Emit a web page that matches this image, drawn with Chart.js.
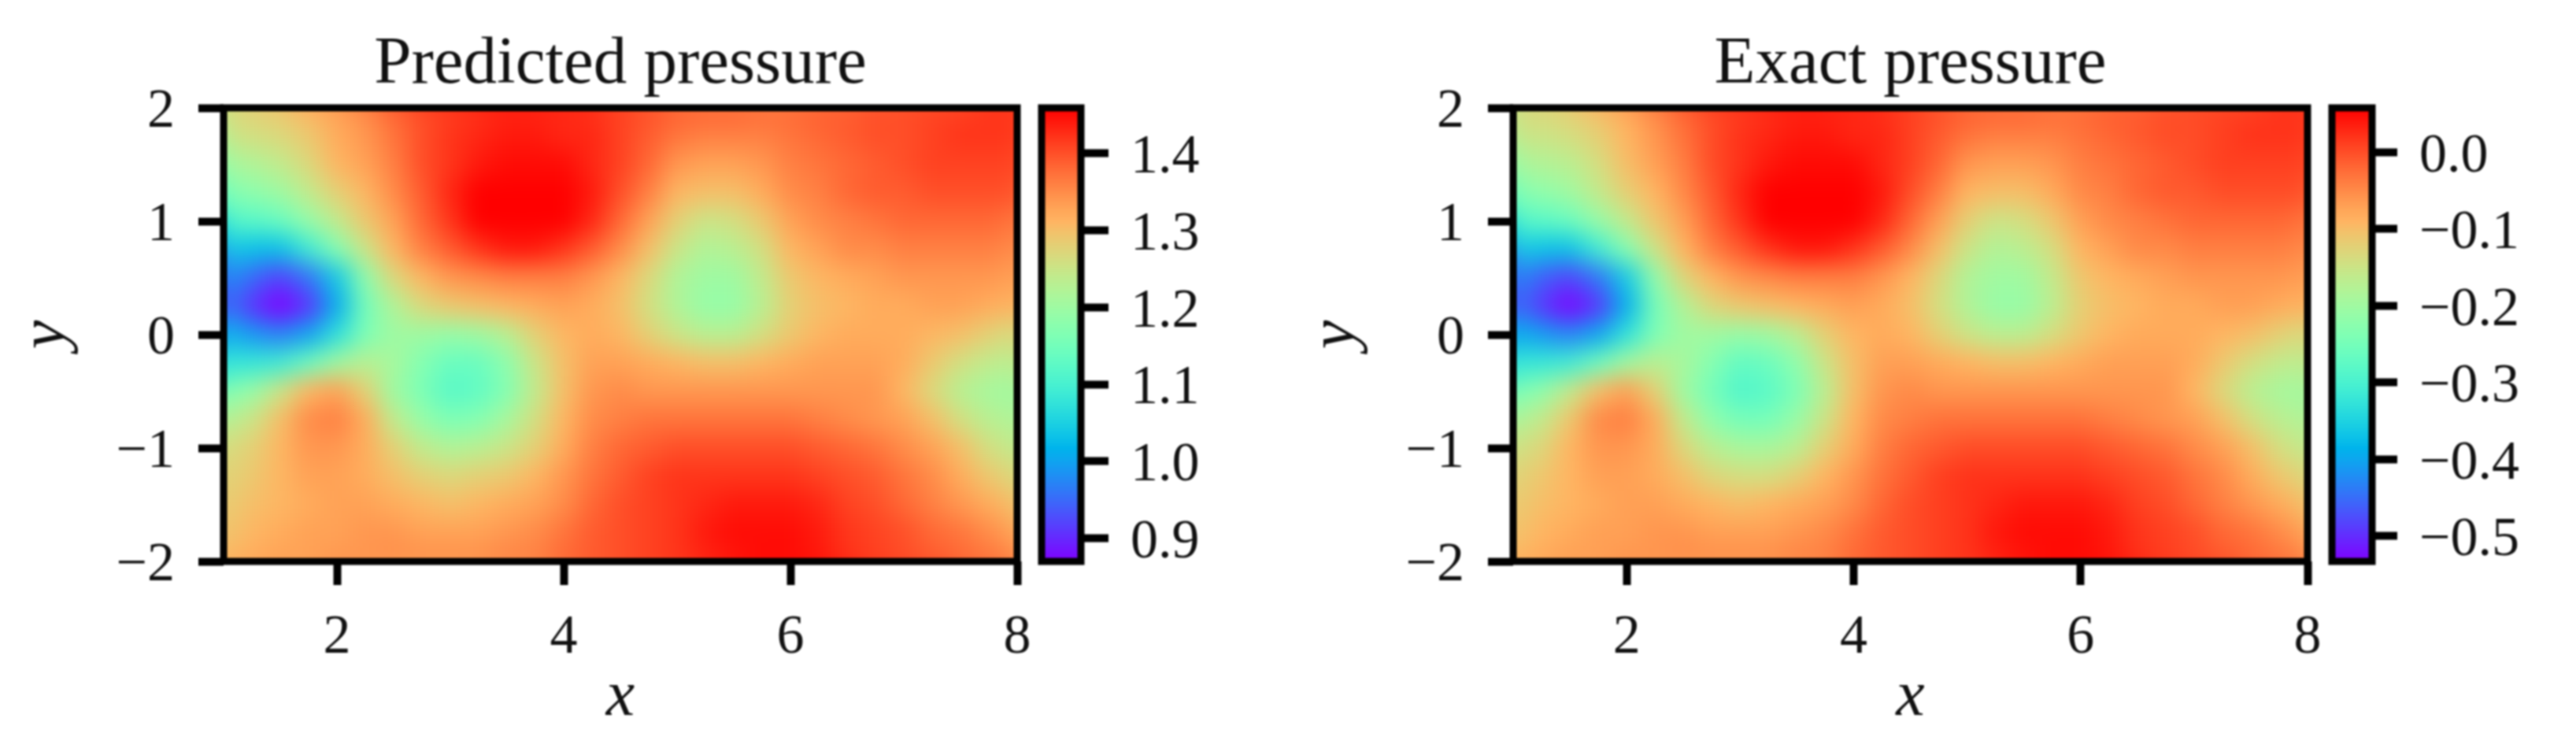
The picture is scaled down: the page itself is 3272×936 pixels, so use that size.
<!DOCTYPE html>
<html lang="en">
<head>
  <meta charset="UTF-8">
  <title>Predicted and exact pressure</title>
  <script src="https://cdn.jsdelivr.net/npm/chart.js"></script>
  <style>
    html, body { margin: 0; padding: 0; background: #fff; }
    #page { position: relative; width: 3272px; height: 936px; overflow: hidden; }
    canvas { position: absolute; top: 0; filter: blur(0.8px); }
  </style>
</head>
<body>
  <div id="page">
    <canvas id="predicted" width="1340" height="936" style="left:0"></canvas>
    <canvas id="predictedBar" width="300" height="936" style="left:1300px"></canvas>
    <canvas id="exact" width="1341" height="936" style="left:1638px"></canvas>
    <canvas id="exactBar" width="332" height="936" style="left:2940px"></canvas>
  </div>
  <script>
    const xCoords = [1,1.25,1.5,1.75,2,2.25,2.5,2.75,3,3.25,3.5,3.75,4,4.25,4.5,4.75,5,5.25,5.5,5.75,6,6.25,6.5,6.75,7,7.25,7.5,7.75,8];
    const yCoords = [2,1.75,1.5,1.25,1,0.75,0.5,0.25,0,-0.25,-0.5,-0.75,-1,-1.25,-1.5,-1.75,-2];

    const xTicks = [2,4,6,8];
    const xTickLabels = ['2','4','6','8'];
    const yTicks = [-2,-1,0,1,2];
    const yTickLabels = ['−2','−1','0','1','2'];

    const predictedTicks = [0.9,1.0,1.1,1.2,1.3,1.4];
    const predictedTickLabels = ['0.9','1.0','1.1','1.2','1.3','1.4'];
    const exactTicks = [-0.5,-0.4,-0.3,-0.2,-0.1,0];
    const exactTickLabels = ['−0.5','−0.4','−0.3','−0.2','−0.1','0.0'];

    const predictedRange = [0.87,1.459];
    const exactRange = [-0.533,0.058];

    // one row per y, top to bottom
    const predictedP = [
      [1.27,1.28,1.29,1.31,1.33,1.35,1.38,1.40,1.41,1.42,1.43,1.43,1.43,1.42,1.41,1.40,1.39,1.39,1.39,1.38,1.38,1.39,1.39,1.40,1.40,1.41,1.41,1.42,1.42],
      [1.25,1.26,1.27,1.29,1.32,1.34,1.37,1.40,1.42,1.43,1.44,1.44,1.43,1.43,1.41,1.39,1.37,1.36,1.36,1.36,1.37,1.38,1.39,1.40,1.40,1.41,1.42,1.42,1.42],
      [1.21,1.22,1.24,1.27,1.31,1.33,1.36,1.40,1.42,1.44,1.45,1.45,1.45,1.43,1.41,1.38,1.34,1.33,1.33,1.34,1.36,1.37,1.38,1.39,1.40,1.41,1.41,1.41,1.41],
      [1.17,1.18,1.20,1.24,1.28,1.31,1.35,1.39,1.43,1.46,1.47,1.47,1.46,1.44,1.40,1.36,1.31,1.30,1.30,1.32,1.35,1.36,1.38,1.39,1.39,1.40,1.40,1.40,1.40],
      [1.12,1.12,1.14,1.19,1.24,1.29,1.33,1.38,1.42,1.46,1.47,1.47,1.46,1.43,1.38,1.33,1.28,1.25,1.26,1.29,1.33,1.35,1.36,1.37,1.38,1.38,1.38,1.38,1.37],
      [1.05,1.03,1.03,1.09,1.17,1.25,1.31,1.36,1.39,1.42,1.44,1.44,1.42,1.39,1.35,1.30,1.25,1.22,1.23,1.26,1.31,1.33,1.35,1.35,1.36,1.36,1.36,1.36,1.35],
      [1.00,0.95,0.92,0.96,1.04,1.18,1.27,1.31,1.34,1.35,1.36,1.36,1.36,1.34,1.31,1.27,1.22,1.20,1.20,1.24,1.29,1.31,1.32,1.33,1.34,1.34,1.34,1.34,1.33],
      [0.98,0.91,0.87,0.91,1.01,1.15,1.22,1.27,1.29,1.30,1.31,1.32,1.33,1.32,1.30,1.26,1.22,1.19,1.19,1.23,1.28,1.30,1.31,1.32,1.32,1.33,1.33,1.32,1.31],
      [1.03,0.99,0.97,1.00,1.07,1.16,1.20,1.20,1.19,1.20,1.23,1.28,1.31,1.32,1.31,1.28,1.25,1.23,1.23,1.26,1.29,1.31,1.32,1.32,1.32,1.31,1.30,1.28,1.26],
      [1.08,1.08,1.09,1.14,1.20,1.23,1.21,1.17,1.14,1.14,1.18,1.25,1.30,1.33,1.33,1.32,1.31,1.30,1.30,1.31,1.32,1.33,1.33,1.33,1.32,1.29,1.26,1.24,1.23],
      [1.16,1.19,1.25,1.31,1.33,1.28,1.20,1.16,1.12,1.13,1.17,1.24,1.30,1.34,1.35,1.34,1.34,1.34,1.34,1.34,1.34,1.34,1.34,1.34,1.31,1.27,1.23,1.21,1.20],
      [1.22,1.25,1.30,1.35,1.36,1.32,1.24,1.19,1.16,1.17,1.21,1.26,1.31,1.35,1.36,1.37,1.37,1.37,1.37,1.37,1.37,1.36,1.35,1.34,1.33,1.30,1.26,1.23,1.22],
      [1.26,1.28,1.31,1.34,1.34,1.32,1.28,1.24,1.22,1.23,1.25,1.28,1.32,1.36,1.38,1.39,1.40,1.40,1.40,1.40,1.40,1.39,1.38,1.37,1.35,1.33,1.30,1.26,1.24],
      [1.27,1.29,1.31,1.33,1.33,1.32,1.30,1.28,1.27,1.28,1.29,1.31,1.34,1.37,1.39,1.41,1.42,1.42,1.42,1.42,1.42,1.41,1.40,1.39,1.37,1.35,1.32,1.29,1.27],
      [1.28,1.30,1.31,1.32,1.33,1.33,1.32,1.31,1.30,1.31,1.32,1.33,1.35,1.38,1.40,1.41,1.42,1.43,1.44,1.44,1.44,1.43,1.41,1.40,1.38,1.36,1.34,1.32,1.30],
      [1.29,1.31,1.32,1.33,1.33,1.34,1.34,1.33,1.33,1.33,1.34,1.35,1.37,1.39,1.40,1.41,1.42,1.44,1.45,1.45,1.45,1.44,1.42,1.41,1.40,1.38,1.37,1.35,1.33],
      [1.31,1.32,1.33,1.33,1.34,1.34,1.35,1.35,1.35,1.35,1.36,1.36,1.38,1.39,1.40,1.41,1.42,1.43,1.44,1.45,1.45,1.44,1.42,1.41,1.40,1.39,1.38,1.37,1.36]
    ];

    const exactP = [
      [-0.13,-0.13,-0.12,-0.10,-0.08,-0.05,-0.02,0.00,0.01,0.02,0.03,0.03,0.03,0.02,0.01,0.00,-0.01,-0.01,-0.01,-0.02,-0.02,-0.01,-0.01,0.00,0.00,0.01,0.01,0.02,0.02],
      [-0.15,-0.15,-0.14,-0.12,-0.09,-0.06,-0.03,0.00,0.02,0.03,0.04,0.04,0.03,0.03,0.01,-0.01,-0.03,-0.04,-0.04,-0.04,-0.03,-0.02,-0.01,0.00,0.00,0.01,0.02,0.02,0.02],
      [-0.19,-0.18,-0.17,-0.14,-0.10,-0.07,-0.04,0.00,0.02,0.04,0.05,0.05,0.05,0.03,0.01,-0.02,-0.06,-0.07,-0.07,-0.06,-0.04,-0.03,-0.02,-0.01,0.00,0.01,0.01,0.01,0.01],
      [-0.23,-0.22,-0.20,-0.16,-0.12,-0.09,-0.05,-0.01,0.03,0.06,0.07,0.07,0.06,0.04,0.00,-0.04,-0.09,-0.10,-0.10,-0.08,-0.05,-0.04,-0.02,-0.01,-0.01,0.00,0.00,0.00,0.00],
      [-0.28,-0.28,-0.26,-0.21,-0.16,-0.11,-0.07,-0.02,0.02,0.06,0.07,0.07,0.06,0.03,-0.02,-0.07,-0.12,-0.15,-0.14,-0.11,-0.07,-0.05,-0.04,-0.03,-0.02,-0.02,-0.02,-0.02,-0.03],
      [-0.35,-0.37,-0.37,-0.31,-0.23,-0.15,-0.09,-0.04,-0.01,0.02,0.04,0.04,0.02,-0.01,-0.05,-0.10,-0.15,-0.18,-0.17,-0.14,-0.09,-0.07,-0.05,-0.05,-0.04,-0.04,-0.04,-0.04,-0.05],
      [-0.41,-0.46,-0.48,-0.44,-0.36,-0.22,-0.13,-0.09,-0.06,-0.05,-0.04,-0.04,-0.04,-0.06,-0.09,-0.13,-0.18,-0.20,-0.20,-0.16,-0.11,-0.09,-0.08,-0.07,-0.06,-0.06,-0.06,-0.06,-0.07],
      [-0.43,-0.49,-0.53,-0.49,-0.39,-0.25,-0.18,-0.13,-0.11,-0.10,-0.09,-0.08,-0.07,-0.08,-0.10,-0.14,-0.18,-0.21,-0.21,-0.17,-0.12,-0.10,-0.09,-0.08,-0.08,-0.07,-0.07,-0.08,-0.09],
      [-0.38,-0.41,-0.43,-0.40,-0.33,-0.24,-0.20,-0.20,-0.21,-0.20,-0.17,-0.12,-0.09,-0.08,-0.09,-0.12,-0.15,-0.17,-0.17,-0.14,-0.11,-0.09,-0.08,-0.08,-0.08,-0.09,-0.10,-0.12,-0.14],
      [-0.32,-0.32,-0.31,-0.26,-0.20,-0.17,-0.19,-0.23,-0.27,-0.26,-0.22,-0.15,-0.10,-0.07,-0.07,-0.08,-0.09,-0.10,-0.10,-0.09,-0.08,-0.07,-0.07,-0.07,-0.08,-0.11,-0.14,-0.16,-0.17],
      [-0.25,-0.22,-0.16,-0.10,-0.07,-0.12,-0.20,-0.25,-0.29,-0.28,-0.24,-0.17,-0.10,-0.06,-0.05,-0.06,-0.06,-0.06,-0.06,-0.06,-0.06,-0.06,-0.06,-0.06,-0.09,-0.13,-0.17,-0.19,-0.20],
      [-0.19,-0.16,-0.11,-0.05,-0.04,-0.08,-0.16,-0.22,-0.25,-0.25,-0.21,-0.15,-0.09,-0.05,-0.04,-0.03,-0.03,-0.03,-0.03,-0.03,-0.03,-0.04,-0.05,-0.06,-0.07,-0.10,-0.14,-0.17,-0.18],
      [-0.15,-0.13,-0.09,-0.06,-0.06,-0.08,-0.13,-0.17,-0.19,-0.19,-0.17,-0.12,-0.08,-0.04,-0.02,-0.01,0.00,0.00,0.00,0.00,0.00,-0.01,-0.02,-0.03,-0.05,-0.07,-0.10,-0.14,-0.16],
      [-0.13,-0.11,-0.09,-0.07,-0.07,-0.08,-0.10,-0.13,-0.14,-0.14,-0.12,-0.09,-0.06,-0.03,-0.01,0.01,0.02,0.02,0.02,0.02,0.02,0.01,0.00,-0.01,-0.03,-0.05,-0.08,-0.11,-0.13],
      [-0.12,-0.10,-0.09,-0.08,-0.07,-0.07,-0.08,-0.09,-0.10,-0.09,-0.08,-0.07,-0.05,-0.02,0.00,0.01,0.02,0.03,0.04,0.04,0.04,0.03,0.01,0.00,-0.02,-0.04,-0.06,-0.08,-0.10],
      [-0.11,-0.09,-0.08,-0.07,-0.07,-0.06,-0.06,-0.07,-0.07,-0.07,-0.06,-0.05,-0.03,-0.01,0.00,0.01,0.02,0.04,0.05,0.05,0.05,0.04,0.02,0.01,0.00,-0.02,-0.03,-0.05,-0.07],
      [-0.09,-0.08,-0.07,-0.07,-0.06,-0.06,-0.05,-0.05,-0.05,-0.05,-0.04,-0.04,-0.02,-0.01,0.00,0.01,0.02,0.03,0.04,0.05,0.05,0.04,0.02,0.01,0.00,-0.01,-0.02,-0.03,-0.04]
    ];

    const serif = '"Liberation Serif", serif';
    const tickFont = { family: serif, size: 70 };

    // matplotlib's rainbow colormap, t from 0 to 1
    function rainbow(t) {
      t = Math.min(1, Math.max(0, t));
      const r = Math.abs(2 * t - 0.5);
      const g = Math.sin(Math.PI * t);
      const b = Math.cos(Math.PI * t / 2);
      return `rgb(${Math.round(Math.min(1, r) * 255)},${Math.round(g * 255)},${Math.round(b * 255)})`;
    }

    // box around the plot area, thick like the original
    const framePlugin = {
      id: 'frame',
      afterDatasetsDraw(chart) {
        const a = chart.chartArea;
        const ctx = chart.ctx;
        ctx.save();
        ctx.strokeStyle = '#000';
        ctx.lineWidth = 9;
        ctx.strokeRect(a.left, a.top, a.right - a.left, a.bottom - a.top);
        ctx.restore();
      }
    };

    // the cells are drawn by the scatter dataset, this only softens them (imshow interpolation)
    const smoothPlugin = {
      id: 'smooth',
      afterDatasetsDraw(chart) {
        const a = chart.chartArea;
        const w = a.right - a.left;
        const h = a.bottom - a.top;
        const pad = 60;
        const off = document.createElement('canvas');
        off.width = w + pad * 2;
        off.height = h + pad * 2;
        const o = off.getContext('2d');
        o.drawImage(chart.canvas, a.left, a.top, w, h, 0, 0, off.width, off.height);
        o.drawImage(chart.canvas, a.left, a.top, w, h, pad, pad, w, h);
        const ctx = chart.ctx;
        ctx.save();
        ctx.beginPath();
        ctx.rect(a.left, a.top, w, h);
        ctx.clip();
        ctx.filter = 'blur(15px)';
        ctx.drawImage(off, a.left - pad, a.top - pad);
        ctx.restore();
      }
    };

    function fixedTicks(values) {
      return scale => { scale.ticks = values.map(v => ({ value: v })); };
    }

    function labelFrom(values, labels) {
      return v => labels[values.indexOf(v)];
    }

    function heatmap(id, title, rows, range) {
      const cells = [];
      rows.forEach((row, j) => {
        row.forEach((v, i) => cells.push({ x: xCoords[i], y: yCoords[j], v: v }));
      });
      new Chart(document.getElementById(id), {
        type: 'scatter',
        data: {
          datasets: [{
            data: cells,
            clip: 0,
            pointStyle: 'rect',
            pointBorderWidth: 0,
            pointRadius: ctx => {
              const y = ctx.chart.scales.y;
              return Math.abs(y.getPixelForValue(0.25) - y.getPixelForValue(0)) / 2 / Math.SQRT1_2 + 1;
            },
            pointBackgroundColor: ctx => rainbow((ctx.raw.v - range[0]) / (range[1] - range[0]))
          }]
        },
        options: {
          responsive: false,
          animation: false,
          events: [],
          layout: { padding: { left: 0, right: 48, top: 0, bottom: 0 } },
          plugins: {
            legend: { display: false },
            tooltip: { enabled: false },
            title: {
              display: true,
              text: title,
              fullSize: false,
              color: '#111',
              font: { family: serif, size: 85, weight: 'normal', lineHeight: 1 },
              padding: { top: 40, bottom: 12 }
            }
          },
          scales: {
            x: {
              type: 'linear',
              min: 1,
              max: 8,
              afterBuildTicks: fixedTicks(xTicks),
              afterFit: s => { s.height = 223; },
              grid: { drawOnChartArea: false, tickLength: 30, tickWidth: 10, tickColor: '#000' },
              border: { display: false },
              ticks: {
                color: '#111',
                font: tickFont,
                padding: 26,
                maxRotation: 0,
                autoSkip: false,
                callback: labelFrom(xTicks, xTickLabels)
              },
              title: {
                display: true,
                text: 'x',
                color: '#111',
                font: { family: serif, size: 82, style: 'italic' },
                padding: { top: 0, bottom: 0 }
              }
            },
            y: {
              type: 'linear',
              min: -2,
              max: 2,
              afterBuildTicks: fixedTicks(yTicks),
              afterFit: s => { s.width = 284; },
              grid: { drawOnChartArea: false, tickLength: 32, tickWidth: 10, tickColor: '#000' },
              border: { display: false },
              ticks: {
                color: '#111',
                font: tickFont,
                padding: 30,
                labelOffset: 6,
                autoSkip: false,
                callback: labelFrom(yTicks, yTickLabels)
              },
              title: {
                display: true,
                text: 'y',
                color: '#111',
                font: { family: serif, size: 82, style: 'italic' },
                padding: { top: 10, bottom: 0 }
              }
            }
          }
        },
        plugins: [smoothPlugin, framePlugin]
      });
    }

    function colorbar(id, range, ticks, tickLabels, padLeft, barWidth, canvasWidth, tickLength) {
      new Chart(document.getElementById(id), {
        type: 'bar',
        data: {
          labels: ['p'],
          datasets: [{
            data: [range],
            barPercentage: 1,
            categoryPercentage: 1,
            backgroundColor: ctx => {
              const a = ctx.chart.chartArea;
              if (!a) return '#000';
              const g = ctx.chart.ctx.createLinearGradient(0, a.bottom, 0, a.top);
              for (let i = 0; i <= 40; i++) g.addColorStop(i / 40, rainbow(i / 40));
              return g;
            }
          }]
        },
        options: {
          responsive: false,
          animation: false,
          events: [],
          layout: { padding: { left: padLeft, right: 0, top: 137, bottom: 223 } },
          plugins: { legend: { display: false }, tooltip: { enabled: false } },
          scales: {
            x: { display: false },
            y: {
              type: 'linear',
              position: 'right',
              min: range[0],
              max: range[1],
              afterBuildTicks: fixedTicks(ticks),
              afterFit: s => { s.width = canvasWidth - padLeft - barWidth; },
              grid: { drawOnChartArea: false, tickLength: tickLength, tickWidth: 10, tickColor: '#000' },
              border: { display: false },
              ticks: {
                color: '#111',
                font: tickFont,
                padding: 28,
                labelOffset: 6,
                autoSkip: false,
                callback: labelFrom(ticks, tickLabels)
              }
            }
          }
        },
        plugins: [framePlugin]
      });
    }

    heatmap('predicted', 'Predicted pressure', predictedP, predictedRange);
    colorbar('predictedBar', predictedRange, predictedTicks, predictedTickLabels, 23, 50, 300, 35);
    heatmap('exact', 'Exact pressure', exactP, exactRange);
    colorbar('exactBar', exactRange, exactTicks, exactTickLabels, 22, 51, 332, 32);
  </script>
</body>
</html>
